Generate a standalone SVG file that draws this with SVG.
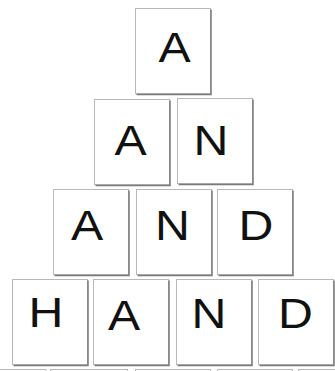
<svg xmlns="http://www.w3.org/2000/svg" width="335" height="371" viewBox="0 0 335 371">
<style>
.box{fill:#fff;stroke:#b8b8b8;stroke-width:1}
.sh{fill:none;stroke:#7a7a7a;stroke-width:1.5}
.t{font-family:"Liberation Sans",Arial,sans-serif;font-size:42px;fill:#111;text-anchor:middle}
</style>
<rect width="335" height="371" fill="#fff"/>
<defs>
<g id="tile"><rect class="box" x="0.5" y="0.5" width="75" height="85"/><path class="sh" d="M76 1.5V86.5H1.5"/></g>
</defs>
<g id="r1a"><use href="#tile" x="135" y="8"/><text class="t" transform="translate(174.5 62) scale(1.15 1)">A</text></g>
<g id="r2a"><use href="#tile" x="94" y="99"/><text class="t" transform="translate(130.5 155) scale(1.15 1)">A</text></g>
<g id="r2n"><use href="#tile" x="177" y="98"/><text class="t" transform="translate(211 155) scale(1.15 1)">N</text></g>
<g id="r3a"><use href="#tile" x="53" y="189"/><text class="t" transform="translate(87 240) scale(1.15 1)">A</text></g>
<g id="r3n"><use href="#tile" x="136" y="189"/><text class="t" transform="translate(172.5 240) scale(1.15 1)">N</text></g>
<g id="r3d"><use href="#tile" x="217" y="189"/><text class="t" transform="translate(256 240) scale(1.15 1)">D</text></g>
<g id="r4h"><use href="#tile" x="12" y="279"/><text class="t" transform="translate(46 327) scale(1.15 1)">H</text></g>
<g id="r4a"><use href="#tile" x="93" y="279"/><text class="t" transform="translate(124 330) scale(1.15 1)">A</text></g>
<g id="r4n"><use href="#tile" x="176" y="279"/><text class="t" transform="translate(209 328) scale(1.15 1)">N</text></g>
<g id="r4d"><use href="#tile" x="258" y="279"/><text class="t" transform="translate(295.5 328) scale(1.15 1)">D</text></g>
<g id="r5">
<rect class="box" x="-30" y="369.5" width="76" height="40"/>
<rect class="box" x="50.5" y="369.5" width="77" height="40"/>
<rect class="box" x="135.5" y="369.5" width="75" height="40"/>
<rect class="box" x="217.5" y="369.5" width="75" height="40"/>
<rect class="box" x="298.5" y="369.5" width="76" height="40"/>
</g>
</svg>
